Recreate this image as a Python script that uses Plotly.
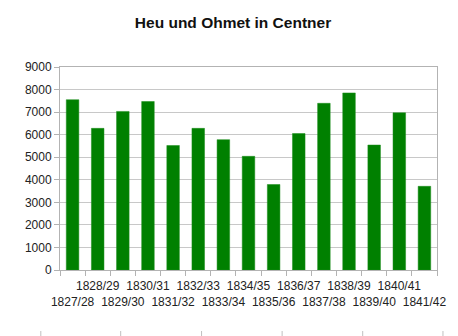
import plotly.graph_objects as go

categories = ["1827/28", "1828/29", "1829/30", "1830/31", "1831/32", "1832/33",
              "1833/34", "1834/35", "1835/36", "1836/37", "1837/38", "1838/39",
              "1839/40", "1840/41", "1841/42"]
values = [7550, 6280, 7030, 7470, 5520, 6280, 5780, 5040, 3790, 6050,
          7390, 7850, 5540, 6970, 3710]
y_ticks = [0, 1000, 2000, 3000, 4000, 5000, 6000, 7000, 8000, 9000]

tick_text = [(" <br>" + c) if i % 2 == 0 else (c + "<br> ") for i, c in enumerate(categories)]

# figure is offset by the page's 8px body margin
W, H = 450, 328
ML, MR, MT, MB = 52, 19, 59, 66
plot_w = W - ML - MR
plot_h = H - MT - MB

fig = go.Figure()
fig.add_trace(go.Bar(
    x=categories, y=values,
    marker=dict(color="#008000", line=dict(color="#1a8c1a", width=0.5)),
    width=0.5,
))

# faint stray tick marks along the bottom edge of the image
stray_px = [40.7, 121, 202.3, 283.3, 364.3, 445]
for px in stray_px:
    xp = (px - 8 - ML) / plot_w
    fig.add_shape(type="line", xref="paper", yref="paper",
                  x0=xp, x1=xp,
                  y0=-(331 - 8 - MT - plot_h) / plot_h,
                  y1=-(336 - 8 - MT - plot_h) / plot_h,
                  line=dict(color="#c0c0c0", width=1))

fig.update_layout(
    width=W, height=H,
    margin=dict(l=ML, r=MR, t=MT, b=MB),
    paper_bgcolor="white", plot_bgcolor="white",
    showlegend=False,
    font=dict(family="Liberation Sans, Arial, sans-serif", size=12, color="#222"),
    title=dict(text="<b>Heu und Ohmet in Centner</b>", x=0.5, xanchor="center",
               y=1 - 15 / H, yanchor="middle", font=dict(size=15.5, color="#111")),
    xaxis=dict(
        type="category", tickmode="array", tickvals=categories, ticktext=tick_text,
        tickangle=0, showline=True, linecolor="#b3b3b3", linewidth=1, mirror=True,
        ticks="outside", ticklen=5, tickcolor="#b3b3b3", tickson="boundaries",
        showgrid=False, tickfont=dict(size=12), ticklabelstandoff=5,
    ),
    yaxis=dict(
        range=[0, 9000], tickvals=y_ticks, showline=True, linecolor="#b3b3b3",
        linewidth=1, mirror=True, ticks="outside", ticklen=5, tickcolor="#b3b3b3",
        gridcolor="#c8c8c8", gridwidth=1, zeroline=False, tickfont=dict(size=12),
    ),
    bargap=0.5,
)

fig.write_html("out.html")
